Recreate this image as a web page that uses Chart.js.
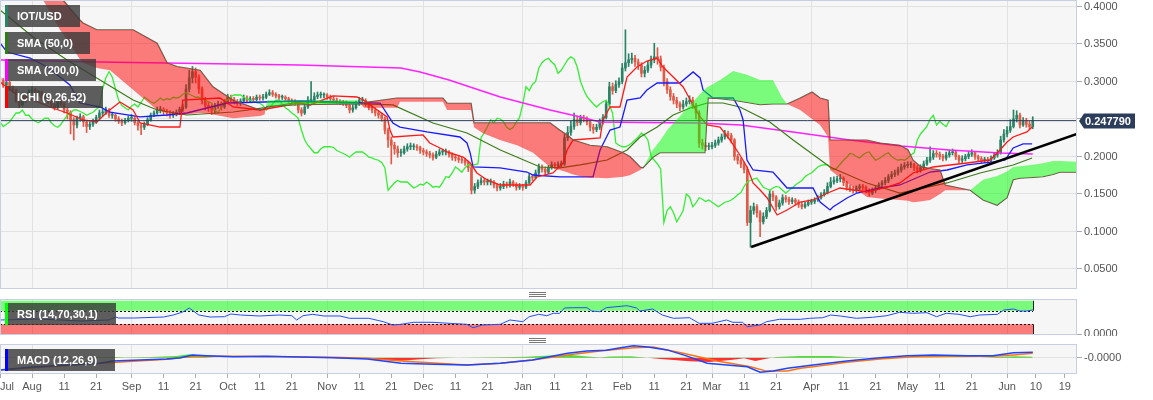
<!DOCTYPE html>
<html>
<head>
<meta charset="utf-8">
<script src="https://cdn.jsdelivr.net/npm/chart.js@4.4.1/dist/chart.umd.min.js"></script>
<style>
body{margin:0;background:#fff;width:1153px;height:400px;overflow:hidden;position:relative;font-family:"Liberation Sans",Arial,sans-serif}
canvas{position:absolute;left:0}
.tag{position:absolute;left:5px;height:22px;line-height:22px;background:rgba(58,58,58,.82);color:#fff;font-weight:bold;font-size:11px;padding-left:12px;box-sizing:border-box;white-space:nowrap}
.tag i{position:absolute;left:0;top:0;width:3px;height:100%}
.grip{position:absolute;left:529px;width:17px;height:3px;border-top:1px solid #7a7a7a;border-bottom:1px solid #7a7a7a}
.grip:after{content:"";position:absolute;left:0;right:0;top:1px;border-top:1px solid #7a7a7a}
</style>
</head>
<body>
<canvas id="main" width="1153" height="290" style="top:0"></canvas>
<canvas id="rsi" width="1153" height="41" style="top:295px"></canvas>
<canvas id="macd" width="1153" height="60" style="top:340px"></canvas>

<div class="tag" style="top:5px;width:75px"><i style="background:#2a8366"></i>IOT/USD</div>
<div class="tag" style="top:32px;width:85px"><i style="background:#2e7d16"></i>SMA (50,0)</div>
<div class="tag" style="top:59px;width:91px"><i style="background:#ff00ff"></i>SMA (200,0)</div>
<div class="tag" style="top:86px;width:98px"><i style="background:#ff0000"></i>ICHI (9,26,52)</div>
<div class="tag" style="top:303px;width:111px"><i style="background:#00ff00"></i>RSI (14,70,30,1)</div>
<div class="tag" style="top:349px;width:110px"><i style="background:#0000ff"></i>MACD (12,26,9)</div>
<div class="grip" style="top:292px"></div>
<div class="grip" style="top:338px"></div>

<script>
// day 0 = 22 Jul 2018, one candle per day up to 9 Jun 2019
const closes = [
.302,.295,.299,.291,.289,.275,.269,.282,.275,.286,
.289,.282,.286,.278,.279,.273,.269,.265,.275,.270,
.262,.259,.249,.242,.251,.253,.246,.240,.243,.246,
.252,.258,.258,.262,.255,.255,.250,.247,.245,.248,
.251,.251,.245,.241,.239,.243,.249,.255,.258,.262,
.262,.260,.258,.255,.257,.259,.263,.266,.290,.305,
.313,.306,.290,.275,.268,.265,.262,.267,.270,.266,
.272,.279,.276,.273,.271,.274,.278,.275,.277,.276,
.279,.278,.279,.283,.285,.283,.281,.279,.279,.277,
.275,.273,.271,.262,.258,.266,.275,.275,.280,.282,
.282,.282,.279,.277,.275,.273,.272,.271,.268,.262,
.265,.270,.275,.275,.270,.265,.262,.258,.255,.251,
.235,.222,.215,.210,.205,.205,.210,.213,.213,.213,
.212,.208,.206,.204,.202,.199,.203,.206,.206,.206,
.203,.199,.198,.196,.195,.192,.185,.155,.160,.165,
.168,.166,.166,.166,.162,.158,.160,.163,.162,.166,
.163,.159,.160,.159,.165,.173,.172,.178,.186,.183,
.179,.185,.189,.188,.189,.190,.225,.232,.240,.249,
.245,.251,.250,.246,.239,.236,.239,.246,.252,.270,
.293,.288,.296,.300,.318,.325,.329,.331,.326,.322,
.311,.315,.322,.329,.333,.330,.319,.300,.289,.280,
.275,.270,.266,.270,.273,.275,.268,.258,.218,.215,
.213,.213,.215,.218,.222,.226,.231,.228,.222,.200,
.195,.190,.183,.112,.128,.133,.125,.113,.120,.128,
.150,.146,.133,.138,.145,.143,.140,.142,.139,.136,
.133,.136,.139,.140,.142,.145,.149,.152,.160,.166,
.168,.170,.171,.165,.159,.157,.155,.158,.160,.159,
.155,.151,.155,.158,.162,.165,.168,.173,.176,.178,
.182,.186,.188,.189,.189,.185,.182,.185,.190,.195,
.199,.204,.203,.200,.198,.202,.205,.206,.200,.195,
.197,.200,.203,.205,.200,.197,.195,.196,.195,.198,
.202,.205,.222,.230,.235,.240,.250,.255,.242,.247,
.243,.240,.24779];
const highs = [
.308,.304,.302,.300,.294,.290,.278,.285,.284,.289,
.293,.291,.288,.287,.283,.281,.276,.271,.278,.277,
.272,.265,.261,.252,.254,.257,.255,.248,.246,.250,
.255,.262,.263,.266,.264,.259,.257,.253,.250,.251,
.254,.256,.253,.247,.244,.246,.252,.258,.261,.266,
.267,.265,.263,.261,.260,.262,.266,.270,.296,.315,
.320,.318,.309,.293,.279,.272,.269,.271,.274,.273,
.276,.283,.282,.279,.276,.277,.282,.281,.280,.280,
.282,.282,.283,.286,.289,.288,.285,.283,.282,.281,
.279,.277,.276,.273,.265,.270,.280,.300,.285,.286,
.286,.285,.284,.282,.280,.278,.276,.275,.274,.270,
.269,.274,.279,.279,.277,.272,.268,.265,.261,.258,
.253,.238,.226,.219,.214,.210,.214,.217,.218,.217,
.216,.214,.211,.209,.207,.205,.207,.210,.210,.210,
.208,.205,.203,.201,.199,.198,.194,.187,.164,.169,
.172,.171,.170,.170,.168,.164,.164,.167,.166,.170,
.168,.165,.164,.163,.168,.177,.176,.182,.190,.189,
.186,.188,.193,.192,.193,.194,.230,.240,.247,.258,
.254,.255,.255,.253,.249,.243,.243,.250,.256,.275,
.299,.298,.301,.305,.324,.369,.337,.338,.335,.330,
.325,.320,.327,.334,.351,.345,.334,.322,.304,.293,
.284,.279,.273,.275,.278,.281,.279,.271,.261,.223,
.219,.218,.219,.222,.226,.230,.235,.234,.231,.224,
.203,.198,.193,.186,.134,.138,.136,.128,.125,.132,
.155,.154,.148,.142,.149,.148,.146,.145,.144,.142,
.139,.139,.142,.143,.145,.148,.152,.156,.165,.172,
.173,.174,.176,.173,.167,.162,.160,.161,.163,.163,
.161,.157,.158,.161,.165,.168,.172,.176,.180,.182,
.186,.190,.192,.193,.193,.191,.188,.189,.194,.199,
.213,.208,.208,.206,.203,.206,.209,.210,.208,.202,
.201,.203,.207,.209,.207,.202,.200,.199,.199,.201,
.205,.209,.227,.236,.240,.249,.262,.261,.258,.252,
.251,.247,.253];
const lows = [
.298,.292,.293,.288,.285,.272,.265,.267,.272,.274,
.284,.280,.280,.275,.276,.270,.266,.262,.263,.267,
.258,.250,.230,.222,.238,.247,.240,.232,.236,.240,
.244,.250,.254,.256,.252,.251,.247,.244,.241,.243,
.246,.247,.242,.235,.229,.236,.241,.247,.253,.256,
.258,.256,.254,.251,.252,.254,.256,.260,.264,.286,
.298,.298,.284,.270,.262,.260,.256,.258,.264,.262,
.264,.270,.273,.270,.268,.268,.272,.272,.273,.273,
.274,.275,.275,.277,.281,.280,.278,.276,.276,.274,
.272,.270,.268,.258,.254,.256,.264,.271,.273,.277,
.278,.278,.276,.274,.272,.270,.269,.268,.265,.258,
.259,.263,.268,.271,.267,.262,.258,.254,.251,.247,
.230,.212,.190,.203,.199,.200,.203,.207,.209,.209,
.208,.204,.202,.200,.198,.195,.197,.201,.202,.202,
.199,.195,.194,.192,.191,.188,.180,.150,.151,.157,
.162,.162,.162,.162,.158,.154,.155,.157,.158,.159,
.160,.155,.156,.155,.157,.163,.168,.170,.176,.179,
.175,.177,.183,.184,.185,.186,.188,.221,.228,.236,
.241,.242,.246,.242,.234,.231,.233,.236,.243,.250,
.267,.283,.285,.292,.297,.314,.320,.324,.320,.316,
.306,.306,.312,.318,.325,.323,.314,.294,.284,.275,
.270,.265,.261,.263,.267,.270,.264,.250,.212,.210,
.208,.209,.210,.212,.215,.219,.223,.224,.218,.195,
.190,.185,.178,.108,.079,.123,.119,.093,.110,.117,
.126,.141,.128,.130,.135,.139,.136,.137,.135,.132,
.130,.131,.134,.136,.137,.140,.143,.147,.150,.158,
.163,.165,.166,.161,.155,.153,.151,.152,.155,.155,
.151,.147,.149,.152,.156,.159,.162,.165,.170,.173,
.175,.179,.183,.185,.185,.181,.178,.179,.183,.188,
.192,.196,.199,.196,.194,.195,.199,.202,.196,.191,
.192,.194,.197,.200,.196,.193,.191,.192,.191,.193,
.196,.199,.203,.219,.226,.232,.238,.246,.238,.240,
.239,.236,.237];
const firstOpen = 0.305;

// indicator lines: [day, value]
const sma50Pts = [[0,.3953],[10.3,.3593],[20.9,.3287],[31.2,.302],[41.5,.2753],[49,.262],[58.3,.2553],[72.7,.2593],[82,.2647],[93.5,.2727],[122.5,.2687],[135,.2447],[145.6,.2313],[156,.2087],[168.4,.186],[174.6,.1847],[180.9,.1887],[189.3,.1953],[195.5,.2087],[199.6,.226],[204.9,.2393],[209.9,.2553],[215.2,.2647],[220.5,.2713],[225.4,.2713],[230.7,.266],[240,.246],[247.3,.222],[258.8,.186],[270.3,.1647],[280.6,.1513],[295.3,.1647],[305.6,.178],[315.9,.1887],[321.8,.198]];
const sma200Pts = [[0,.3287],[31,.326],[93.5,.322],[125,.318],[131,.3127],[140,.302],[156,.2793],[171.5,.262],[181,.2527],[187,.246],[200,.2453],[218,.2447],[231,.242],[249.5,.2313],[265,.222],[281,.214],[296,.2087],[312,.2047],[322,.2033]];
const tenkanPts = [[0,.2993],[6.2,.2793],[10.3,.2753],[15.6,.266],[20.9,.258],[25.9,.2487],[30.2,.246],[33.4,.2593],[37.4,.2727],[41.5,.262],[43.7,.2447],[49.9,.2393],[56.1,.2393],[57,.2753],[68.6,.278],[72.7,.266],[81.1,.262],[93.5,.2713],[96.7,.2687],[103.8,.2807],[111.3,.2793],[114.4,.2727],[116.3,.266],[120.7,.2527],[121.6,.2353],[122.5,.226],[131.9,.2287],[134,.218],[137.2,.2113],[139.4,.206],[144.4,.1993],[146.6,.1913],[148.7,.178],[151.9,.1687],[155.9,.162],[165.3,.162],[167.4,.1727],[172.4,.178],[175.6,.1913],[176.8,.2087],[178.7,.222],[187.1,.2247],[188,.2487],[190.2,.266],[193.3,.266],[195.5,.306],[198.6,.3193],[201.7,.3273],[204.9,.3313],[206.7,.3193],[209.9,.306],[213,.2927],[216.1,.2687],[218.3,.2527],[220.5,.242],[224.5,.2393],[227.6,.222],[230.7,.202],[232.9,.186],[234.8,.1647],[237,.1553],[239.2,.1447],[242.3,.122],[245.4,.1287],[249.5,.1393],[253.5,.142],[257.9,.151],[261.9,.158],[266,.1553],[270.3,.1527],[276.6,.1593],[280.6,.1647],[284.7,.178],[290.9,.186],[301.5,.1913],[308.7,.1953],[311.8,.2087],[314,.2193],[315.9,.226],[320.2,.2327],[321.8,.2393]];
const kijunPts = [[0,.3513],[2.2,.3393],[9.4,.3313],[14.7,.3193],[21.8,.2953],[24.9,.2713],[31.2,.266],[34.3,.2593],[43.7,.2527],[52.1,.2553],[58.3,.258],[70.8,.2713],[93.5,.274],[118.5,.2713],[122.5,.2447],[124.7,.2393],[133.1,.2327],[143.4,.226],[145.6,.218],[146.6,.2047],[147.5,.186],[155.9,.1847],[164.3,.1793],[166.2,.1753],[174.6,.1727],[184.9,.1727],[187.1,.2087],[190.2,.2353],[193.3,.2393],[195.5,.2753],[199.6,.278],[201.7,.2887],[204.9,.298],[212,.298],[216.1,.3127],[218.3,.3047],[219.2,.2887],[222.3,.278],[228.6,.278],[230.7,.262],[231.7,.2487],[232.9,.1953],[234.8,.182],[241,.1793],[243.2,.1687],[245.4,.158],[253.5,.158],[255.7,.1393],[258.8,.1287],[259.7,.1327],[264.1,.1447],[267.2,.1513],[274.4,.158],[280.6,.162],[290,.1793],[295.3,.182],[301.5,.1887],[309.6,.1927],[313.4,.1953],[315.9,.2113],[319,.2167],[321.8,.2167]];

// cloud (senkou spans, already shifted 26 days forward)
const cloudDays = [0,12.5,13.4,18.7,19.6,24.9,25.9,30.2,34.3,41.5,49,52.1,55.2,62.4,66.4,72.7,81.1,82.5,83.3,93.5,111.3,113.5,123.8,124.7,138.1,139.4,146.9,147.8,150.6,155.9,161.2,166.2,171.5,174.6,176.8,178.7,181.8,184,189.3,194.3,196.4,199.6,200.5,203.6,205.8,208,215.2,219.8,220.8,224.5,228.6,232.9,237,241,243.8,245.4,249.5,253.2,255.7,258.2,258.8,265,270.3,274.4,280.6,283.1,284.7,286.9,290,293.1,294.7,302.5,306.5,310.9,314,315.9,318,322.1,325.2,328.3,330.5,335.8];
const spanA = [.435,.415,.409,.369,.364,.330,.325,.318,.315,.289,.262,.259,.255,.258,.256,.251,.254,.256,.275,.275,.275,.265,.265,.273,.273,.262,.262,.239,.231,.222,.215,.205,.186,.182,.179,.176,.173,.172,.171,.173,.175,.182,.185,.209,.221,.235,.269,.290,.293,.302,.314,.309,.302,.302,.279,.270,.262,.250,.242,.226,.182,.162,.146,.144,.142,.141,.139,.140,.142,.150,.155,.155,.169,.174,.180,.186,.187,.189,.191,.194,.194,.193];
const spanB = [.475,.442,.438,.412,.409,.382,.378,.369,.369,.369,.351,.325,.320,.315,.293,.275,.262,.264,.267,.269,.270,.272,.278,.278,.278,.271,.271,.245,.245,.245,.245,.245,.245,.235,.229,.222,.218,.215,.213,.205,.200,.186,.185,.199,.205,.205,.205,.205,.278,.277,.275,.272,.269,.270,.270,.270,.278,.286,.278,.275,.222,.222,.222,.218,.215,.209,.195,.187,.184,.182,.162,.155,.142,.135,.145,.169,.171,.172,.173,.176,.179,.179];
const trendPts = [[234.2,.0793],[335.8,.2300]];

const rsiPts = [[0,42.6],[12.5,45.5],[25,39.6],[34,42.6],[36,51.5],[37,48.5],[42,48.5],[51,51.5],[54,57.4],[57,66.4],[59,78.3],[62,57.4],[65.5,51.5],[70,52.4],[72,60.4],[75,57.4],[81,54.5],[87,57.4],[91,55.4],[92.5,42.6],[94.5,55.4],[97.5,59.5],[101,54.5],[106,54.5],[109,47.6],[115,47.6],[119.5,37.5],[122.5,27.7],[125,29.8],[129,35.7],[135,35.7],[140,32.7],[145.5,29.8],[147.5,19.6],[150.5,27.7],[156,29.8],[159,42.6],[163,37.5],[165,52.4],[168,59.5],[170.5,55.4],[172.5,62.5],[174.5,62.5],[176,78.3],[178.5,79.2],[183,79.2],[184.5,69.3],[187,67.3],[189,79.2],[195.5,85.1],[198.5,78.3],[199.5,69.3],[203.5,75.3],[206.5,57.4],[210,47.6],[215,49.4],[218,32.7],[222,32.7],[226.5,42.6],[228.5,35.7],[231.5,35.7],[233,22.6],[237,27.7],[239,37.5],[243,44.6],[249.5,44.6],[252.5,47.6],[256.5,49.4],[259,57.4],[262,54.5],[267,47.6],[272,50.6],[276.5,55.4],[280.5,65.5],[284.5,62.5],[289,64.3],[292,52.4],[295,62.5],[299,59.5],[302.5,52.4],[305.5,57.4],[311,59.5],[313,72.3],[316,75.3],[318,69.3],[320,69.3],[322,72.3]];
const rsiLow = 30, rsiHigh = 70;

const macdPts = [[0,-.0062],[10,-.0047],[21,-.0037],[31,-.0028],[35,-.0017],[41.5,-.0013],[52,-.0007],[56,-.0002],[60,.0014],[64.5,.001],[72.7,.0005],[83,.0007],[93.5,.0004],[104,0],[114.5,-.0007],[119.5,-.0017],[125,-.0028],[135,-.0033],[145.6,-.0037],[156,-.0028],[166,-.0012],[177,.0022],[183,.0034],[189,.0037],[193.5,.005],[197.5,.006],[202,.0054],[208,.0039],[214,.0009],[220.5,-.0028],[226.7,-.0037],[233,-.0045],[237,-.0073],[241,-.0067],[245.5,-.0053],[253.5,-.0037],[264,-.0017],[274.4,0],[282.8,.001],[291,.0014],[301.5,.001],[309.6,.001],[316,.0025],[322,.0027]];
const signalPts = [[0,-.0062],[31,-.0028],[52,-.0008],[60,.0007],[72.7,.0007],[104,.0002],[114.5,-.0003],[125,-.0017],[145.6,-.0037],[156,-.0028],[166,-.0012],[177,.0014],[187,.0034],[197.5,.005],[203.6,.0054],[213,.0022],[223.6,-.0017],[234,-.0045],[239,-.0067],[245.5,-.0067],[249.5,-.0053],[253.5,-.0045],[264,-.0023],[274.4,-.0007],[284.7,.0005],[295.3,.0007],[309.6,.0007],[316,.0014],[322,.0022]];
const histPts = [[0,0],[31,.0002],[36,.0003],[39,.0001],[47,.0003],[55,.0008],[59,.0017],[61.5,.0013],[64,.0003],[67,0],[93.5,0],[103,-.0002],[114.5,-.0006],[120,-.0012],[125,-.0015],[131,-.0008],[136,-.0003],[143,0],[156,.0002],[164,.0005],[171.5,.0011],[178,.0013],[184,.0005],[187,.0001],[190,.0006],[196.5,.0007],[201,.0001],[206,-.0007],[215,-.0018],[221,-.0022],[228.5,-.001],[232,-.0003],[235.5,-.0017],[238.5,-.0007],[242,.0004],[249.5,.0008],[259,.0009],[264,.0004],[271,0],[280.6,-.0001],[293,-.0002],[305.6,0],[311,.0003],[316.5,.0007],[322,.0005]];

// axis ticks
const tickDays = [0,10,20,30,41,51,61,71,81,91,102,112,122,132,142,152,163,173,183,194,204,214,222,232,242,253,263,273,283,293,303,314,323,332];
const tickLabels = ['Jul','Aug','11','21','Sep','11','21','Oct','11','21','Nov','11','21','Dec','11','21','Jan','11','21','Feb','11','21','Mar','11','21','Apr','11','21','May','11','21','Jun','10','19'];
const priceTicks = [.05,.10,.15,.20,.25,.30,.35,.40];
const X_MIN = 0, X_MAX = 335.8;

const opens = closes.map((c, i) => i ? closes[i - 1] : firstOpen);
const lastDay = closes.length - 1;
const lastClose = closes[lastDay];
const monthDays = tickDays.filter((d, i) => isNaN(+tickLabels[i]) && d > 0);
const labelOf = new Map(tickDays.map((d, i) => [d, tickLabels[i]]));
const pts = a => a.map(([x, y]) => ({x, y}));
const UP = '#2a8366', DOWN = '#e05a47';
const candleCol = closes.map((c, i) => c >= opens[i] ? UP : DOWN);

Chart.defaults.font.family = '"Liberation Sans", Arial, sans-serif';
Chart.defaults.font.size = 11;
Chart.defaults.color = '#555';

const panel = {
  id: 'panel',
  beforeDraw(c) {
    const a = c.chartArea, g = c.ctx;
    g.save(); g.fillStyle = '#f6f6f6'; g.fillRect(a.left, a.top, a.width, a.height); g.restore();
  },
  afterDraw(c) {
    const a = c.chartArea, g = c.ctx;
    g.save(); g.strokeStyle = '#c9cfe2'; g.lineWidth = 1;
    g.strokeRect(a.left + 0.5, a.top + 0.5, a.width - 1, a.height - 1); g.restore();
  }
};

const priceTag = {
  id: 'priceTag',
  afterDraw(c) {
    const g = c.ctx, y = Math.round(c.scales.y.getPixelForValue(lastClose)), x = c.chartArea.right;
    g.save();
    g.fillStyle = '#2c3d5c';
    g.beginPath(); g.moveTo(x + 2, y); g.lineTo(x + 7, y - 7.5); g.lineTo(x + 58, y - 7.5);
    g.lineTo(x + 58, y + 7.5); g.lineTo(x + 7, y + 7.5); g.closePath(); g.fill();
    g.fillStyle = '#fff'; g.font = 'bold 11px "Liberation Sans", Arial'; g.textBaseline = 'middle';
    g.fillText(lastClose.toFixed(6), x + 8, y + 0.5);
    g.restore();
  }
};

const rsiBands = {
  id: 'rsiBands',
  beforeDatasetsDraw(c) {
    const xs = c.scales.x, ys = c.scales.y, g = c.ctx;
    const x0 = c.chartArea.left, x1 = Math.round(xs.getPixelForValue(lastDay));
    g.save();
    const band = (lo, hi, col) => {
      const yt = ys.getPixelForValue(hi), yb = ys.getPixelForValue(lo);
      g.fillStyle = col; g.fillRect(x0, yt, x1 - x0, yb - yt);
      g.strokeStyle = '#222'; g.lineWidth = 1;
      g.beginPath(); g.moveTo(x1 + 0.5, yt); g.lineTo(x1 + 0.5, yb); g.stroke();
    };
    band(rsiHigh, 100, 'rgba(0,255,0,0.5)');
    band(0, rsiLow, 'rgba(255,0,0,0.5)');
    g.setLineDash([2, 2]); g.strokeStyle = '#111';
    [rsiHigh, rsiLow].forEach(v => {
      const y = Math.round(ys.getPixelForValue(v)) + 0.5;
      g.beginPath(); g.moveTo(x0, y); g.lineTo(x1, y); g.stroke();
    });
    g.restore();
  }
};

const hiddenX = {
  type: 'linear', min: X_MIN, max: X_MAX, offset: false,
  afterBuildTicks: ax => { ax.ticks = monthDays.map(v => ({value: v})); },
  afterFit: s => { s.height = 0; s.paddingLeft = 0; s.paddingRight = 0; },
  ticks: {display: false},
  grid: {color: '#e2e2e2', drawTicks: false, offset: false},
  border: {display: false}
};
const rightY = (min, max, ticks, fmt) => ({
  position: 'right', min, max,
  afterBuildTicks: ax => { ax.ticks = ticks.map(v => ({value: v})); },
  afterFit: s => { s.width = 76; s.paddingTop = 0; s.paddingBottom = 0; },
  ticks: {callback: fmt, padding: 2, color: '#555'},
  grid: {color: '#e2e2e2', tickColor: '#aab', tickLength: 5},
  border: {display: false}
});
const base = {
  responsive: false, animation: false, events: [],
  plugins: {legend: {display: false}, tooltip: {enabled: false}},
  elements: {point: {radius: 0}, line: {tension: 0}}
};
const line = (data, color, width, order, extra) => Object.assign({type: 'line', data: pts(data), borderColor: color, borderWidth: width, fill: false, order}, extra || {});

new Chart(document.getElementById('main'), {
  type: 'line',
  data: {datasets: [
    {type: 'line', data: cloudDays.map((d, i) => ({x: d, y: spanA[i]})), borderColor: 'rgba(0,0,0,0)', borderWidth: 0,
     fill: {target: 1, above: 'rgba(0,255,0,0.5)', below: 'rgba(255,0,0,0.5)'}, order: 0},
    {type: 'line', data: cloudDays.map((d, i) => ({x: d, y: spanB[i]})), borderColor: '#6a5a58', borderWidth: 1.2, fill: false, order: 0},
    line(trendPts, '#000', 2.6, -1),
    line([[X_MIN, lastClose], [X_MAX, lastClose]], '#2c3d5c', 1, 1),
    line(tenkanPts, '#ff1a1a', 1.3, 2),
    line(kijunPts, '#1a1aff', 1.3, 2),
    {type: 'line', data: closes.slice(26).map((c, i) => ({x: i, y: c})), borderColor: '#35ee35', borderWidth: 1.3, fill: false, order: 3},
    line(sma50Pts, '#3d7a1a', 1.2, 2),
    line(sma200Pts, '#ff22ff', 1.5, 2),
    {type: 'bar', data: closes.map((c, i) => ({x: i, y: [lows[i], highs[i]]})), backgroundColor: candleCol,
     barThickness: 1, grouped: false, order: 10},
    {type: 'bar', data: closes.map((c, i) => ({x: i, y: [opens[i], c]})), backgroundColor: candleCol,
     barThickness: 2, minBarLength: 1, grouped: false, order: 9}
  ]},
  options: Object.assign({}, base, {
    layout: {padding: {left: 0, right: 0, top: 0, bottom: 1}, autoPadding: false},
    scales: {x: hiddenX, y: rightY(0.0233, 0.40867, priceTicks, v => v.toFixed(4))}
  }),
  plugins: [panel, priceTag]
});

new Chart(document.getElementById('rsi'), {
  type: 'line',
  data: {datasets: [line(rsiPts, '#2450f0', 1, 1)]},
  options: Object.assign({}, base, {
    layout: {padding: {left: 0, right: 0, top: 4, bottom: 1}, autoPadding: false},
    scales: {x: hiddenX, y: rightY(-2.1, 105.1, [0], v => v.toFixed(4))}
  }),
  plugins: [panel, rsiBands]
});

new Chart(document.getElementById('macd'), {
  type: 'line',
  data: {datasets: [
    line(histPts, 'rgba(0,0,0,0)', 0, 3, {fill: {target: {value: 0}, above: 'rgba(0,235,0,0.8)', below: 'rgba(255,0,0,0.8)'}}),
    line(signalPts, '#ff7410', 1.5, 2),
    line(macdPts, '#1f45ff', 1.5, 1)
  ]},
  options: Object.assign({}, base, {
    layout: {padding: {left: 0, right: 0, top: 4, bottom: 0}, autoPadding: false},
    scales: {
      x: {
        type: 'linear', min: X_MIN, max: X_MAX, offset: false,
        afterBuildTicks: ax => { ax.ticks = tickDays.concat([X_MAX]).map(v => ({value: v})); },
        afterFit: s => { s.height = 26; s.paddingLeft = 0; s.paddingRight = 0; },
        ticks: {autoSkip: false, maxRotation: 0, align: 'inner', padding: 2, color: '#555',
                callback: v => labelOf.has(v) ? labelOf.get(v) : ''},
        grid: {color: c => monthDays.includes(c.tick && c.tick.value) ? '#e2e2e2' : 'rgba(0,0,0,0)',
               tickColor: c => (c.tick && c.tick.value === X_MAX) ? 'rgba(0,0,0,0)' : '#aab',
               tickLength: 4, offset: false},
        border: {display: false}
      },
      y: rightY(-0.00815, 0.00685, [-0.00002], v => v.toFixed(4))
    }
  }),
  plugins: [panel]
});
</script>
</body>
</html>
